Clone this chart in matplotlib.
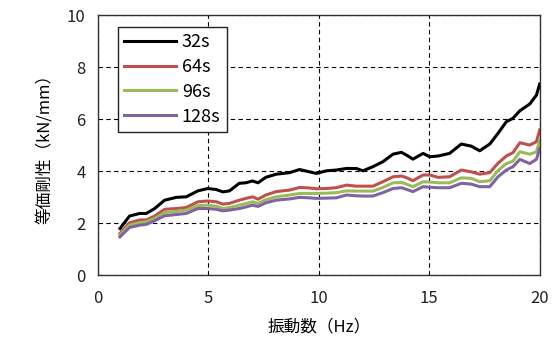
import matplotlib
matplotlib.use("Agg")
import matplotlib.pyplot as plt

plt.rcParams['font.family'] = ['Noto Sans CJK JP', 'DejaVu Sans']

freq = [1.0, 1.43, 1.89, 2.19, 2.57, 3.02, 3.55, 4.0, 4.53, 4.98, 5.36, 5.66, 5.96,
        6.4, 6.7, 7.0, 7.25, 7.6, 8.07, 8.68, 9.13, 9.58, 9.89, 10.34, 10.79, 11.25,
        11.7, 12.0, 12.45, 12.9, 13.36, 13.74, 13.96, 14.26, 14.72, 15.02, 15.4, 15.92,
        16.45, 16.9, 17.28, 17.74, 18.11, 18.49, 18.79, 19.1, 19.55, 19.85, 20.0]

k32 = [1.79, 2.27, 2.37, 2.37, 2.56, 2.88, 2.99, 3.01, 3.24, 3.33, 3.29, 3.2, 3.24,
       3.53, 3.55, 3.62, 3.55, 3.76, 3.88, 3.94, 4.06, 3.97, 3.91, 4.01, 4.04, 4.10,
       4.10, 4.01, 4.17, 4.36, 4.65, 4.72, 4.62, 4.46, 4.68, 4.55, 4.58, 4.68, 5.04,
       4.96, 4.78, 5.04, 5.45, 5.90, 6.03, 6.32, 6.58, 6.92, 7.35]
k64 = [1.60, 2.01, 2.12, 2.12, 2.27, 2.53, 2.56, 2.6, 2.82, 2.85, 2.82, 2.73, 2.76,
       2.88, 2.95, 3.01, 2.92, 3.08, 3.21, 3.27, 3.37, 3.35, 3.32, 3.33, 3.36, 3.46,
       3.42, 3.42, 3.42, 3.59, 3.78, 3.81, 3.75, 3.63, 3.85, 3.85, 3.76, 3.78, 4.04,
       3.97, 3.88, 3.94, 4.3, 4.58, 4.71, 5.09, 5.0, 5.13, 5.58]
k96 = [1.54, 1.92, 2.01, 2.05, 2.18, 2.4, 2.45, 2.5, 2.67, 2.69, 2.65, 2.56, 2.6,
       2.69, 2.75, 2.82, 2.76, 2.9, 3.01, 3.08, 3.14, 3.14, 3.14, 3.15, 3.17, 3.24,
       3.23, 3.23, 3.23, 3.37, 3.55, 3.56, 3.5, 3.4, 3.59, 3.58, 3.55, 3.55, 3.74,
       3.72, 3.59, 3.63, 4.02, 4.29, 4.38, 4.74, 4.65, 4.74, 5.19]
k128 = [1.47, 1.83, 1.92, 1.95, 2.09, 2.28, 2.33, 2.37, 2.56, 2.56, 2.53, 2.47, 2.5,
        2.56, 2.62, 2.69, 2.64, 2.78, 2.88, 2.93, 2.99, 2.97, 2.95, 2.96, 2.97, 3.08,
        3.05, 3.04, 3.04, 3.17, 3.33, 3.36, 3.3, 3.21, 3.4, 3.38, 3.36, 3.36, 3.53,
        3.5, 3.4, 3.4, 3.78, 4.04, 4.17, 4.45, 4.29, 4.45, 4.87]

labels = ['32s', '64s', '96s', '128s']
colors = ['#000000', '#c0504d', '#9bbb59', '#8064a2']
series = [k32, k64, k96, k128]

fig = plt.figure(figsize=(5.53, 3.5), dpi=100)
ax = fig.add_axes([0.177, 0.214, 0.799, 0.743])

for ys, lab, c in zip(series, labels, colors):
    ax.plot(freq, ys, color=c, lw=2.2, label=lab)

ax.set_xlim(0, 20)
ax.set_ylim(0, 10)
ax.set_xticks([0, 5, 10, 15, 20])
ax.set_yticks([0, 2, 4, 6, 8, 10])
ax.grid(True, color='black', linestyle=(0, (4, 3)), linewidth=0.8)
ax.tick_params(axis='x', length=0, labelsize=12, pad=11, colors='#222222')
ax.tick_params(axis='y', length=0, labelsize=12, pad=9, colors='#222222')
for s in ax.spines.values():
    s.set_color('#333333')
    s.set_linewidth(1.0)

ax.set_xlabel('振動数（Hz）', fontsize=12, labelpad=8)
ax.set_ylabel('等価剛性（kN/mm）', fontsize=12, labelpad=10)

leg = ax.legend(loc='upper left', bbox_to_anchor=(0.045, 0.955), borderaxespad=0,
                fancybox=False, edgecolor='#222222', fontsize=13, handlelength=2.9,
                handletextpad=0.3, labelspacing=0.38, borderpad=0.35, framealpha=1)
leg.get_frame().set_linewidth(1.0)

fig.savefig('out.png', dpi=100)
